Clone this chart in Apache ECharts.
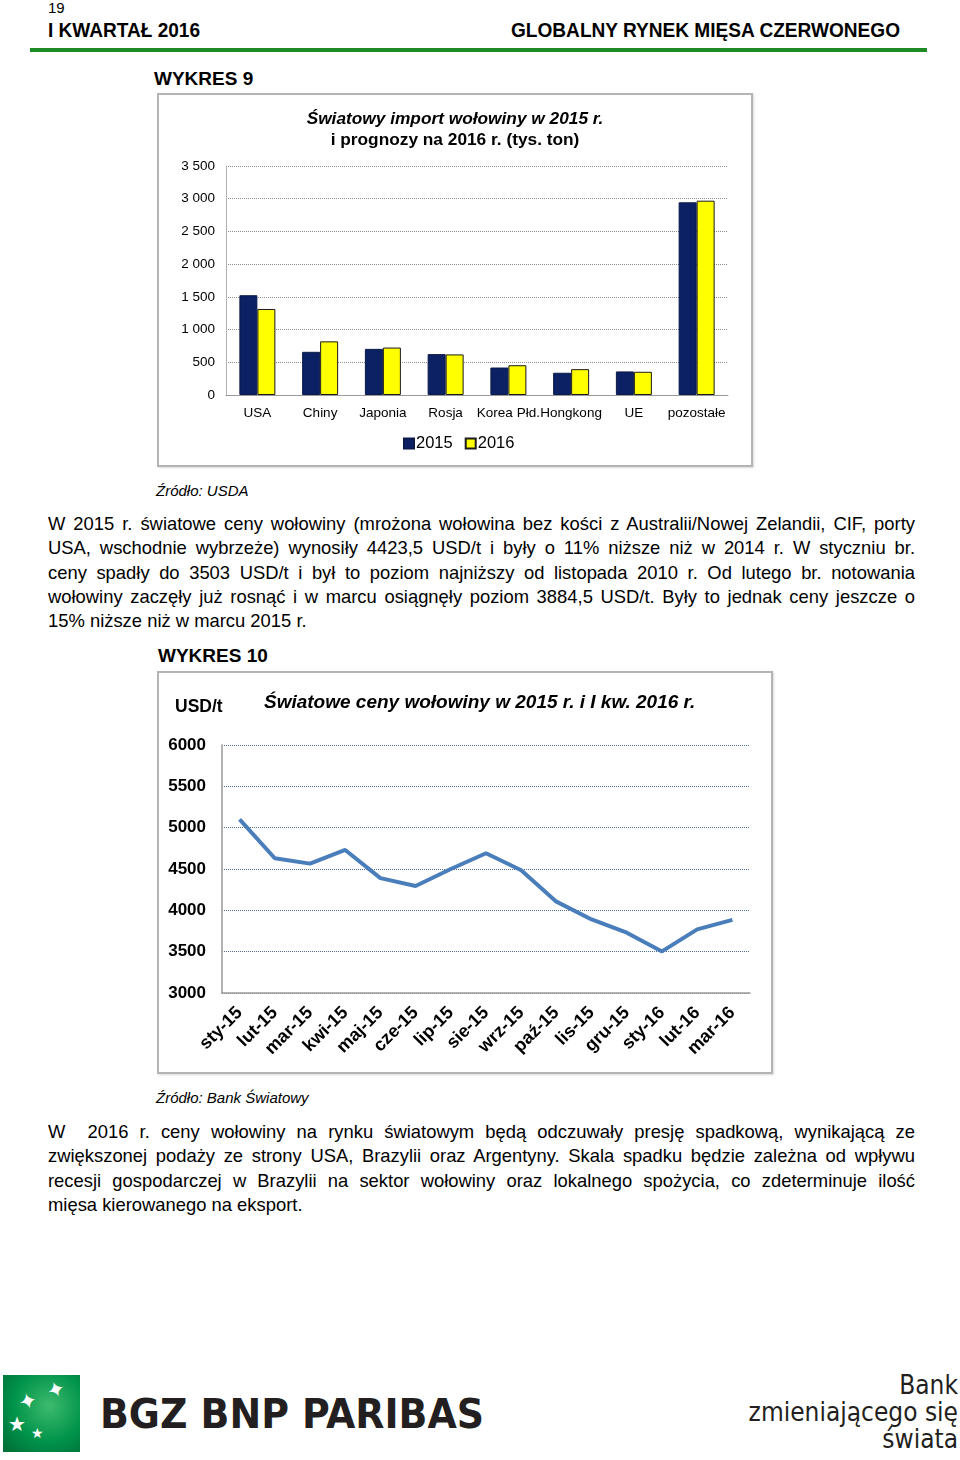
<!DOCTYPE html>
<html lang="pl">
<head>
<meta charset="utf-8">
<script src="https://cdn.jsdelivr.net/npm/echarts@6/dist/echarts.min.js"></script>
<style>
  html, body { margin:0; padding:0; background:#fff; }
  body { width:960px; height:1460px; position:relative; overflow:hidden; font-family:"Liberation Sans", Arial, sans-serif; color:#000; }
  .abs { position:absolute; white-space:nowrap; }
  .frame { position:absolute; box-sizing:border-box; border:2px solid #b4b4b4; box-shadow:1px 1px 2px rgba(0,0,0,0.15); pointer-events:none; }
  .para { position:absolute; left:48px; width:867px; font-size:18.4px; line-height:24.3px; }
  .para div { text-align:justify; text-align-last:justify; white-space:nowrap; }
  .para div.last { text-align-last:left; }
  .fit { display:inline-block; transform-origin:left center; }
</style>
</head>
<body>
<div class="abs" style="left:48px;top:0px;font-size:15px;line-height:16px;">19</div>
<div class="abs" style="left:48px;top:18px;font-size:20px;font-weight:bold;line-height:24px;"><span class="fit" data-w="152">I KWARTAŁ 2016</span></div>
<div class="abs" style="left:511px;top:18px;font-size:20px;font-weight:bold;line-height:24px;"><span class="fit" data-w="389">GLOBALNY RYNEK MIĘSA CZERWONEGO</span></div>
<div class="abs" style="left:30px;top:48px;width:897px;height:4px;background:#1f8b24;"></div>

<div class="abs" style="left:154px;top:67px;font-size:19px;font-weight:bold;line-height:24px;">WYKRES 9</div>
<div id="c1" class="abs" style="left:157px;top:93px;width:596px;height:374px;"></div>
<div class="frame" style="left:157px;top:93px;width:596px;height:374px;"></div>
<div class="abs" style="left:156px;top:481px;font-size:15px;font-style:italic;line-height:20px;">Źródło: USDA</div>

<div class="para" style="top:512px;">
  <div>W 2015 r. światowe ceny wołowiny (mrożona wołowina bez kości z Australii/Nowej Zelandii, CIF, porty</div>
  <div>USA, wschodnie wybrzeże) wynosiły 4423,5 USD/t i były o 11% niższe niż w 2014 r. W styczniu br.</div>
  <div>ceny spadły do 3503 USD/t i był to poziom najniższy od listopada 2010 r. Od lutego br. notowania</div>
  <div>wołowiny zaczęły już rosnąć i w marcu osiągnęły poziom 3884,5 USD/t. Były to jednak ceny jeszcze o</div>
  <div class="last">15% niższe niż w marcu 2015 r.</div>
</div>

<div class="abs" style="left:158px;top:644px;font-size:19px;font-weight:bold;line-height:24px;">WYKRES 10</div>
<div id="c2" class="abs" style="left:157px;top:671px;width:616px;height:403px;"></div>
<div class="frame" style="left:157px;top:671px;width:616px;height:403px;"></div>
<div class="abs" style="left:156px;top:1088px;font-size:15px;font-style:italic;line-height:20px;">Źródło: Bank Światowy</div>

<div class="para" style="top:1120px;">
  <div>W&nbsp; 2016 r. ceny wołowiny na rynku światowym będą odczuwały presję spadkową, wynikającą ze</div>
  <div>zwiększonej podaży ze strony USA, Brazylii oraz Argentyny. Skala spadku będzie zależna od wpływu</div>
  <div>recesji gospodarczej w Brazylii na sektor wołowiny oraz lokalnego spożycia, co zdeterminuje ilość</div>
  <div class="last">mięsa kierowanego na eksport.</div>
</div>

<!-- logo -->
<div class="abs" style="left:3px;top:1375px;width:77px;height:77px;background:radial-gradient(circle at 60% 40%, #3dbb6e 0%, #00934a 55%, #006a35 100%);overflow:hidden;">
  <div class="abs" style="left:44px;top:2px;color:#fff;font-size:22px;transform:rotate(-20deg);">✦</div>
  <div class="abs" style="left:16px;top:14px;color:#fff;font-size:22px;transform:rotate(-15deg);">✦</div>
  <div class="abs" style="left:5px;top:37px;color:#fff;font-size:20px;">★</div>
  <div class="abs" style="left:28px;top:50px;color:#fff;font-size:14px;">★</div>
</div>
<div class="abs" style="left:100px;top:1392px;height:44px;line-height:44px;font-family:'Liberation Sans Narrow','DejaVu Sans Condensed','Liberation Sans',sans-serif;font-weight:bold;font-size:41px;color:#231f20;"><span class="fit" data-w="384">BGZ BNP PARIBAS</span></div>
<div class="abs" style="right:2px;top:1372px;text-align:right;font-family:'Liberation Sans Narrow','DejaVu Sans Condensed','Liberation Sans',sans-serif;font-size:26px;line-height:27px;color:#231f20;">
  <div>Bank</div>
  <div>zmieniającego się</div>
  <div>świata</div>
</div>

<script>
// ---------- data ----------
var importCategories = ['USA', 'Chiny', 'Japonia', 'Rosja', 'Korea Płd.', 'Hongkong', 'UE', 'pozostałe'];
var import2015 = [1525, 660, 705, 625, 420, 340, 360, 2945];
var import2016 = [1315, 820, 725, 620, 455, 395, 355, 2970];
var importSeriesNames = ['2015', '2016'];

var priceMonths = ['sty-15', 'lut-15', 'mar-15', 'kwi-15', 'maj-15', 'cze-15', 'lip-15', 'sie-15', 'wrz-15', 'paź-15', 'lis-15', 'gru-15', 'sty-16', 'lut-16', 'mar-16'];
var priceValues = [5100, 4630, 4565, 4730, 4390, 4295, 4500, 4690, 4485, 4105, 3890, 3730, 3503, 3770, 3884.5];

// ---------- fit stretched text ----------
document.querySelectorAll('.fit').forEach(function (el) {
  var w = el.getBoundingClientRect().width;
  var target = +el.getAttribute('data-w');
  if (w > 0) el.style.transform = 'scaleX(' + (target / w) + ')';
});

var FONT = 'Liberation Sans, Arial, sans-serif';

// ---------- chart 1 ----------
var c1 = echarts.init(document.getElementById('c1'), null, { renderer: 'canvas' });
c1.setOption({
  animation: false,
  textStyle: { fontFamily: FONT },
  title: {
    text: '{a|Światowy import wołowiny w 2015 r.}\n{b|i prognozy na 2016 r. (tys. ton)}',
    left: 'center',
    top: 11,
    textStyle: {
      rich: {
        a: { fontFamily: FONT, fontSize: 17.3, fontWeight: 'bold', fontStyle: 'italic', color: '#000', lineHeight: 21 },
        b: { fontFamily: FONT, fontSize: 17.3, fontWeight: 'bold', color: '#000', lineHeight: 21 }
      }
    }
  },
  grid: { left: 69, right: 25, top: 73, bottom: 72, containLabel: false },
  legend: {
    data: importSeriesNames,
    left: 241,
    top: 337,
    itemWidth: 10,
    itemHeight: 10,
    itemGap: 12,
    icon: 'rect',
    textStyle: { fontFamily: FONT, fontSize: 16.5, color: '#000', padding: [0, 0, 0, -3] }
  },
  xAxis: {
    type: 'category',
    data: importCategories,
    axisTick: { show: false },
    axisLine: { lineStyle: { color: '#9a9a9a', width: 1 } },
    axisLabel: { interval: 0, fontSize: 13.5, color: '#000', margin: 11, fontFamily: FONT }
  },
  yAxis: {
    type: 'value',
    min: 0, max: 3500, interval: 500,
    axisLine: { show: true, lineStyle: { color: '#b0b0b0' } },
    axisTick: { show: false },
    axisLabel: {
      fontSize: 13.5, color: '#000', margin: 11, fontFamily: FONT,
      formatter: function (v) { return String(v).replace(/\B(?=(\d{3})+(?!\d))/g, ' '); }
    },
    splitLine: { lineStyle: { color: '#8c8c8c', type: [1, 1], width: 1 } }
  },
  series: [
    {
      name: importSeriesNames[0], type: 'bar', data: import2015, barWidth: 18, barGap: '0%',
      itemStyle: { color: '#0b2163', borderColor: '#0b1a4a', borderWidth: 1 }
    },
    {
      name: importSeriesNames[1], type: 'bar', data: import2016, barWidth: 18, barGap: '0%',
      itemStyle: { color: '#ffff00', borderColor: '#1a1a1a', borderWidth: 1 }
    }
  ]
});

// ---------- chart 2 ----------
var c2 = echarts.init(document.getElementById('c2'), null, { renderer: 'canvas' });
c2.setOption({
  animation: false,
  textStyle: { fontFamily: FONT },
  title: {
    text: 'Światowe ceny wołowiny w 2015 r. i I kw. 2016 r.',
    left: 102,
    top: 17,
    textStyle: { fontFamily: FONT, fontSize: 19, fontWeight: 'bold', fontStyle: 'italic', color: '#000' }
  },
  graphic: [{
    type: 'text', left: 18, top: 27,
    style: { text: 'USD/t', font: 'bold 17.5px ' + FONT, fill: '#000' }
  }],
  grid: { left: 65, right: 23, top: 74, bottom: 81, containLabel: false },
  xAxis: {
    type: 'category',
    data: priceMonths,
    axisTick: { show: false },
    axisLine: { lineStyle: { color: '#9a9a9a', width: 1.5 } },
    axisLabel: { interval: 0, rotate: 45, fontSize: 18, fontWeight: 'bold', color: '#000', margin: 17, fontFamily: FONT }
  },
  yAxis: {
    type: 'value',
    min: 3000, max: 6000, interval: 500,
    axisLine: { show: true, lineStyle: { color: '#9a9a9a', width: 1.5 } },
    axisTick: { show: false },
    axisLabel: {
      fontSize: 17, fontWeight: 'bold', color: '#000', margin: 16, fontFamily: FONT,
      formatter: function (v) { return String(v); }
    },
    splitLine: { lineStyle: { color: '#4f6f94', type: [1, 1], width: 1 } }
  },
  series: [{
    type: 'line', data: priceValues, showSymbol: false,
    lineStyle: { color: '#4a7ebb', width: 4 },
    itemStyle: { color: '#4a7ebb' }
  }]
});
</script>
</body>
</html>
